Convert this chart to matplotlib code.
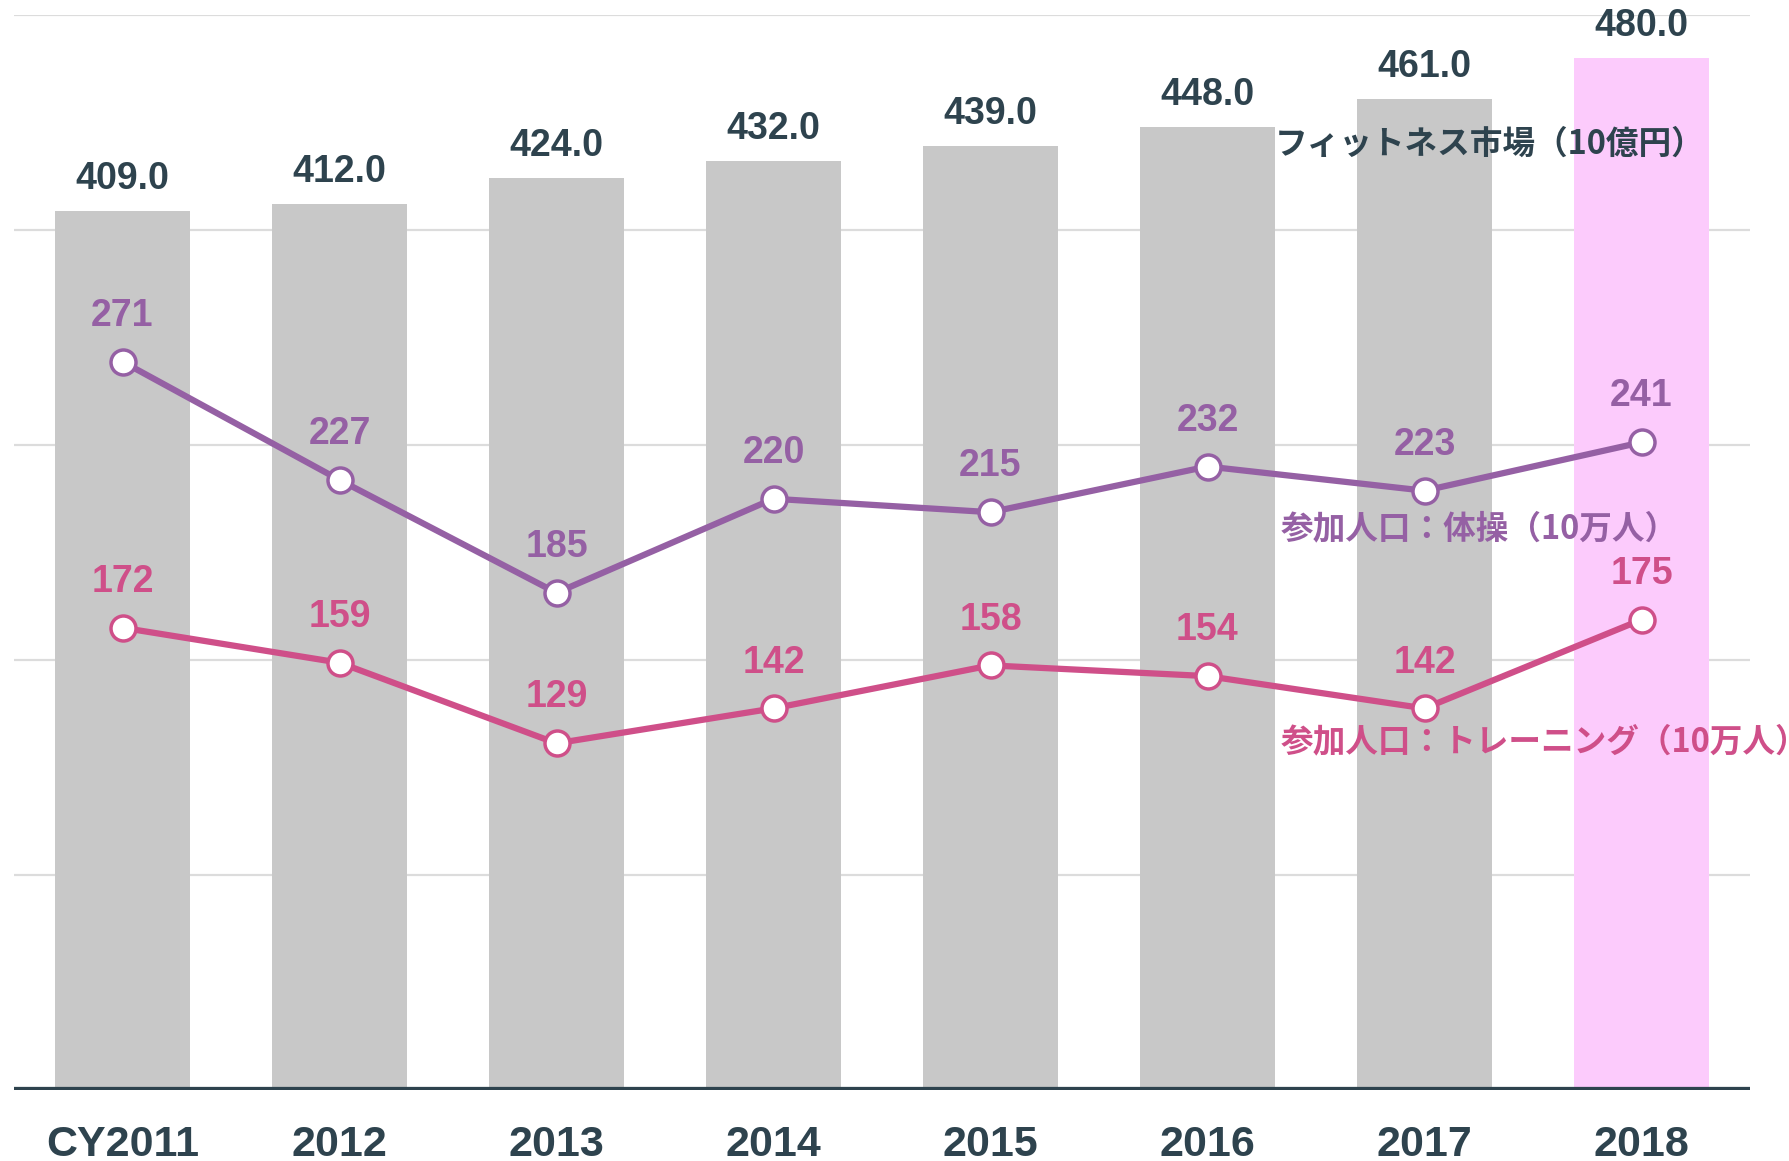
import matplotlib
matplotlib.use("Agg")
import matplotlib.pyplot as plt

# Data
years = ["CY2011", "2012", "2013", "2014", "2015", "2016", "2017", "2018"]
market = [409.0, 412.0, 424.0, 432.0, 439.0, 448.0, 461.0, 480.0]
gymnastics = [271, 227, 185, 220, 215, 232, 223, 241]
training = [172, 159, 129, 142, 158, 154, 142, 175]

label_market = "フィットネス市場（10億円）"
label_gym = "参加人口：体操（10万人）"
label_training = "参加人口：トレーニング（10万人）"

DARK = "#2e434e"
BAR_GRAY = "#c8c8c8"
BAR_HILITE = "#fccbfc"
PURPLE = "#9560a4"
PINK = "#cf4f89"
GRID = "#dcdcdc"

plt.rcParams["font.family"] = ["Liberation Sans", "Noto Sans CJK JP", "DejaVu Sans"]
JP = ["Noto Sans CJK JP", "DejaVu Sans"]

W, H = 1789, 1161
fig = plt.figure(figsize=(W / 100, H / 100), dpi=100)
left, right, top, base = 14, 1750, 15, 1090
ax = fig.add_axes([left / W, (H - base) / H, (right - left) / W, (base - top) / H])

x = list(range(len(years)))
colors = [BAR_GRAY] * (len(years) - 1) + [BAR_HILITE]

ax.set_xlim(-0.5, len(years) - 0.5)
ax.set_ylim(0, 500)
ax.set_yticks([100, 200, 300, 400, 500])
ax.yaxis.grid(True, color=GRID, linewidth=1.6)
ax.set_axisbelow(True)
for s in ax.spines.values():
    s.set_visible(False)

ax.bar(x, market, width=0.62, color=colors, zorder=2)
ax.axhline(0, color=DARK, linewidth=4.5, zorder=4)

ax.set_xticks(x)
ax.set_xticklabels(years, fontsize=31, fontweight="bold", color=DARK)
ax.tick_params(axis="x", length=0, pad=25)

for xi, v in zip(x, market):
    ax.annotate(f"{v:.1f}", (xi, v), xytext=(0, 23), textcoords="offset points",
                ha="center", va="center", fontsize=27, fontweight="bold",
                color=DARK, zorder=5)

# Participation lines on a secondary scale
ax2 = ax.twinx()
ax2.set_ylim(0, 400)
ax2.axis("off")
ax.tick_params(axis="y", left=False, right=False, labelleft=False, labelright=False)

for vals, col in ((gymnastics, PURPLE), (training, PINK)):
    ax2.plot(x, vals, color=col, linewidth=4.5, marker="o", markersize=18,
             markerfacecolor="white", markeredgecolor=col, markeredgewidth=2.5,
             zorder=3)
    for xi, v in zip(x, vals):
        ax2.annotate(f"{v}", (xi, v), xytext=(0, 33), textcoords="offset points",
                     ha="center", va="center", fontsize=27, fontweight="bold",
                     color=col)

# Series names
fig.text(1275 / W, 1 - 144 / H, label_market, family=JP, fontsize=23.5,
         fontweight="bold", color=DARK, ha="left", va="center")
fig.text(1281 / W, 1 - 529 / H, label_gym, family=JP, fontsize=23.5,
         fontweight="bold", color=PURPLE, ha="left", va="center")
fig.text(1281 / W, 1 - 742 / H, label_training, family=JP, fontsize=23.5,
         fontweight="bold", color=PINK, ha="left", va="center")

fig.savefig("out.png", dpi=100)
